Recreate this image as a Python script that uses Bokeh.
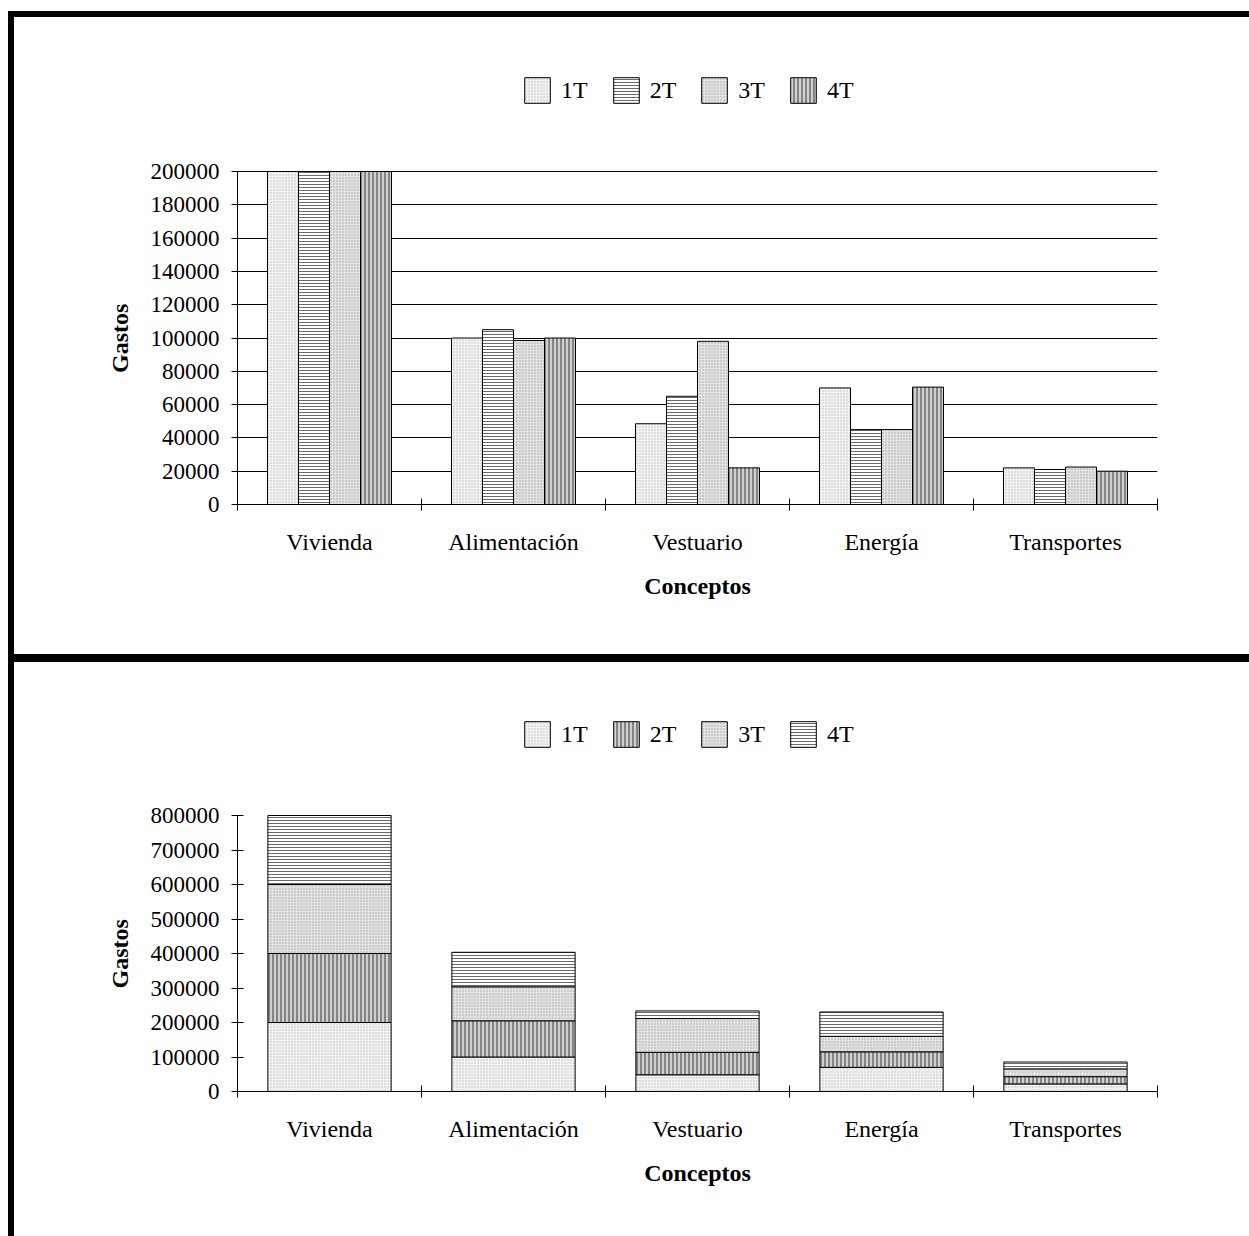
from bokeh.plotting import figure
from bokeh.models import (ColumnDataSource, FixedTicker, NumeralTickFormatter, Legend,
                          LegendItem, Div, Spacer, Range1d, Title)
from bokeh.layouts import column, row
from bokeh.transform import dodge
from bokeh.embed import file_html
from bokeh.resources import INLINE

# Quarterly spending per concept
categories = ["Vivienda", "Alimentación", "Vestuario", "Energía", "Transportes"]
series = ["1T", "2T", "3T", "4T"]
t1 = [200000, 100000, 48500, 70000, 22000]
t2 = [200000, 105000, 65000, 45000, 21000]
t3 = [200000, 98500, 98000, 45000, 22500]
t4 = [200000, 100000, 22000, 70500, 20000]
y_ticks_grouped = [0, 20000, 40000, 60000, 80000, 100000, 120000, 140000, 160000, 180000, 200000]
y_ticks_stacked = [0, 100000, 200000, 300000, 400000, 500000, 600000, 700000, 800000]

FONT = "Liberation Serif"
x_pos = [i + 0.5 for i in range(len(categories))]
source = ColumnDataSource(dict(x=x_pos, cat=categories, t1=t1, t2=t2, t3=t3, t4=t4))

# fill styles
stipple_a = dict(fill_color="#f3f3f3", hatch_pattern="dot", hatch_color="#bdbdbd",
                 hatch_scale=3, hatch_weight=1)
stipple_b = dict(fill_color="#e4e4e4", hatch_pattern="dot", hatch_color="#a4a4a4",
                 hatch_scale=3, hatch_weight=1)
hlines = dict(fill_color="white", hatch_pattern="horizontal_line", hatch_color="#6a6a6a",
              hatch_scale=3, hatch_weight=1)
vlines = dict(fill_color="#d0d0d0", hatch_pattern="vertical_line", hatch_color="#6a6a6a",
              hatch_scale=4, hatch_weight=1.5)

FRAME_TOP = 40  # room above the axis top for the legend


def make_fig(height, axis_top, axis_h, y_max, y_ticks, grid):
    # the frame reaches up to FRAME_TOP; the axis itself spans 0..y_max
    frame_h = axis_top + axis_h - FRAME_TOP
    y_end = y_max * frame_h / axis_h
    p = figure(width=1235, height=height,
               x_range=Range1d(0, len(categories)), y_range=Range1d(0, y_end),
               output_backend="svg", toolbar_location=None,
               min_border_left=223, min_border_right=92,
               min_border_top=FRAME_TOP,
               min_border_bottom=height - axis_top - axis_h,
               outline_line_color=None, background_fill_color="white",
               border_fill_color="white", margin=0)
    xa = p.xaxis[0]
    xa.ticker = FixedTicker(ticks=x_pos, minor_ticks=list(range(len(categories) + 1)))
    xa.major_label_overrides = {x: c for x, c in zip(x_pos, categories)}
    xa.major_tick_line_color = None
    xa.minor_tick_line_color = "black"
    xa.minor_tick_in = 6
    xa.minor_tick_out = 6
    xa.major_label_standoff = 18
    xa.major_label_text_font = FONT
    xa.major_label_text_font_size = "24px"
    xa.major_label_text_color = "black"
    xa.axis_line_color = "black"
    xa.axis_label = "Conceptos"
    xa.axis_label_text_font = FONT
    xa.axis_label_text_font_style = "bold"
    xa.axis_label_text_font_size = "24px"
    xa.axis_label_text_color = "black"
    xa.axis_label_standoff = 15

    ya = p.yaxis[0]
    ya.bounds = (0, y_max)
    ya.ticker = FixedTicker(ticks=y_ticks, minor_ticks=[])
    ya.formatter = NumeralTickFormatter(format="0")
    ya.major_tick_in = 6
    ya.major_tick_out = 6
    ya.major_tick_line_color = "black"
    ya.minor_tick_line_color = None
    ya.major_label_standoff = 12
    ya.major_label_text_font = FONT
    ya.major_label_text_font_size = "23px"
    ya.major_label_text_color = "black"
    ya.axis_line_color = "black"

    # vertical axis title, centred on the 0..y_max span
    p.add_layout(Title(text="Gastos", align="left", offset=axis_h / 2 - 35,
                       standoff=30, text_font=FONT, text_font_size="24px",
                       text_font_style="bold", text_color="black"), "left")

    p.xgrid.visible = False
    if grid:
        p.ygrid.ticker = FixedTicker(ticks=y_ticks, minor_ticks=[])
        p.ygrid.grid_line_color = "black"
        p.ygrid.grid_line_width = 1
    else:
        p.ygrid.visible = False
    return p


def add_legend(p, renderers, y):
    legend = Legend(items=[LegendItem(label=s, renderers=[r]) for s, r in zip(series, renderers)],
                    orientation="horizontal", location=(284, y),
                    padding=0, margin=0, spacing=22,
                    glyph_width=32, glyph_height=32, label_standoff=8,
                    border_line_color=None, background_fill_alpha=0,
                    label_text_font=FONT, label_text_font_size="24px",
                    label_text_color="black")
    p.add_layout(legend)


# Grouped bars
p1 = make_fig(637, 154, 333, 200000, y_ticks_grouped, True)
bar_w = 0.1685
offsets = [-1.5 * bar_w, -0.5 * bar_w, 0.5 * bar_w, 1.5 * bar_w]
styles_grouped = [stipple_a, hlines, stipple_b, vlines]
cols = ["t1", "t2", "t3", "t4"]
r1 = []
for col, off, st in zip(cols, offsets, styles_grouped):
    r = p1.vbar(x=dodge("x", off), top=col, width=bar_w, source=source,
                line_color="black", line_width=1, **st)
    r1.append(r)
add_legend(p1, r1, 398)

# Stacked bars
p2 = make_fig(574, 153, 276, 800000, y_ticks_stacked, False)
styles_stacked = [stipple_a, vlines, stipple_b, hlines]
stack_kw = {k: [st[k] for st in styles_stacked] for k in stipple_a}
r2 = p2.vbar_stack(cols, x="x", width=0.67, source=source,
                   line_color="black", line_width=1, **stack_kw)
add_legend(p2, r2, 341)


def black(w, h):
    return Div(text="", width=w, height=h, margin=0, styles={"background-color": "black"})


def gap(w, h):
    return Spacer(width=w, height=h, margin=0)


page = column(
    gap(1249, 11),
    row(gap(8, 6), black(1241, 6), spacing=0),
    row(gap(8, 637), black(6, 637), p1, spacing=0),
    row(gap(8, 8), black(1241, 8), spacing=0),
    row(gap(8, 574), black(6, 574), p2, spacing=0),
    spacing=0,
)

open("out.html", "w").write(file_html(page, INLINE))
